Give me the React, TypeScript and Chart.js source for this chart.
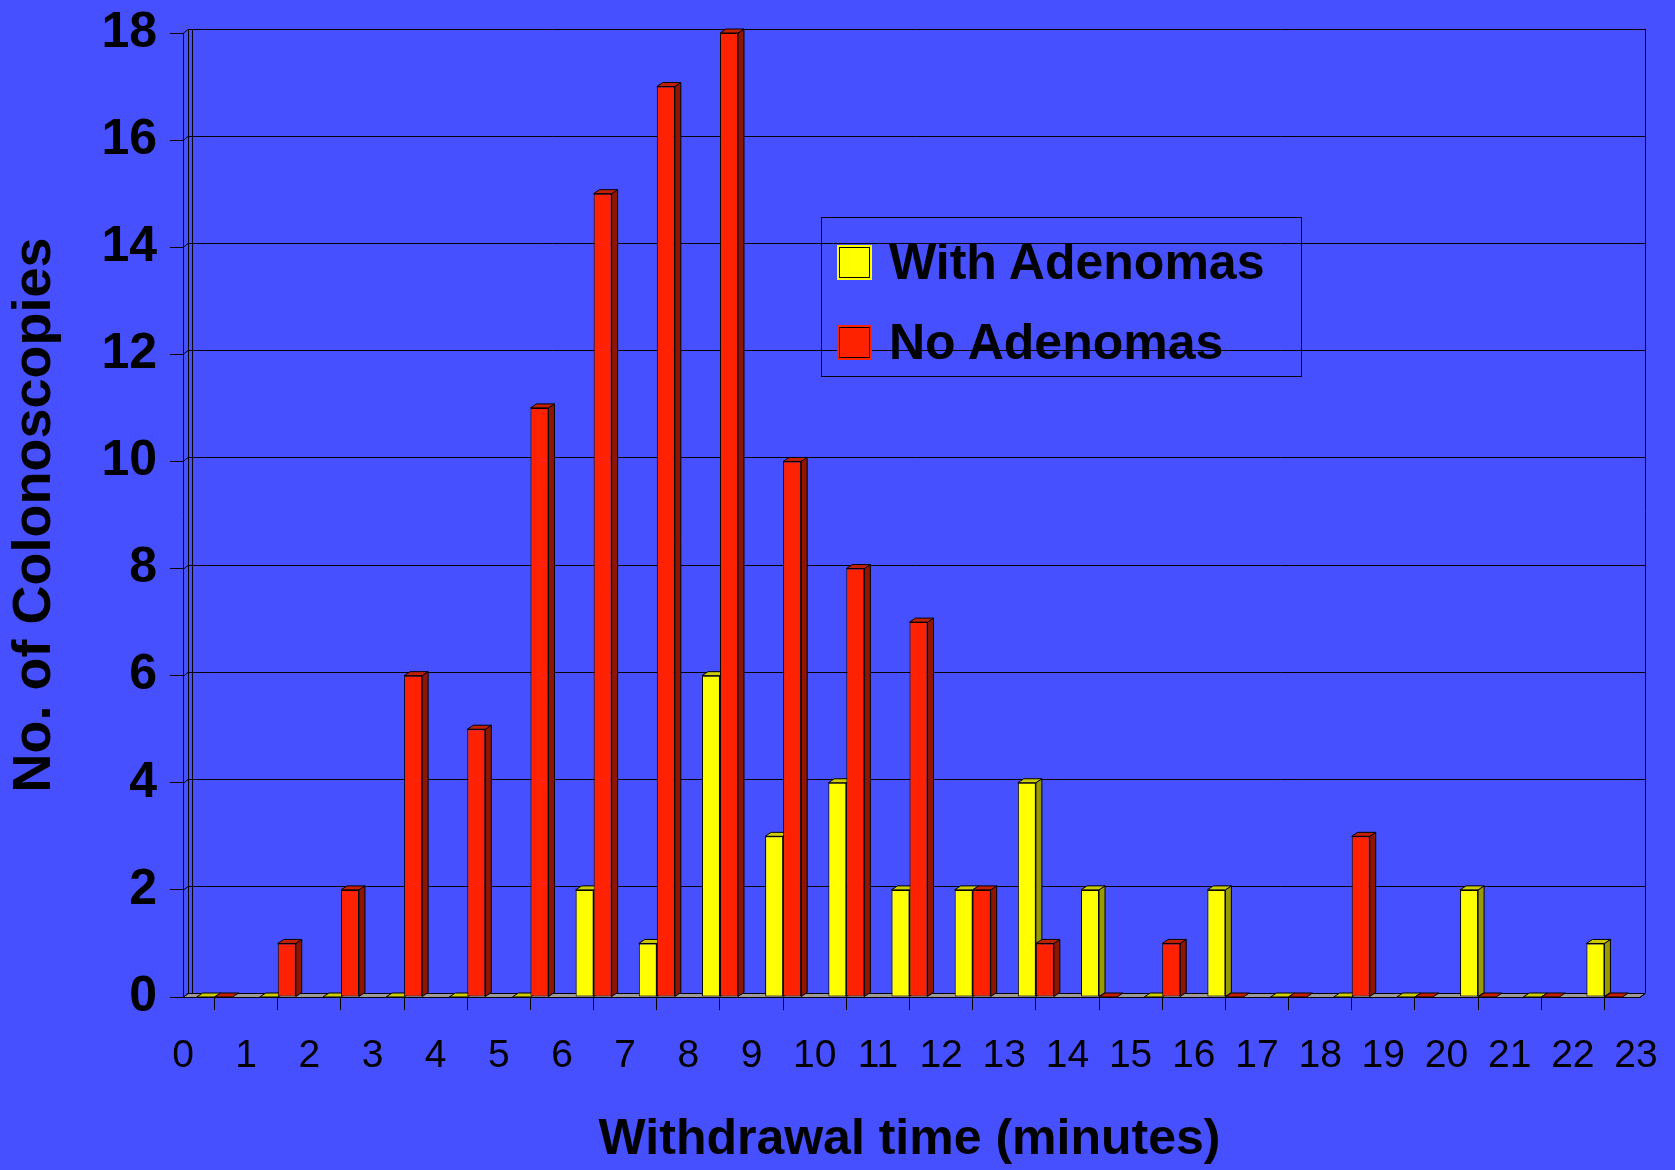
import React, { useEffect, useRef } from 'react';
import { Chart, registerables } from 'chart.js';

Chart.register(...registerables);

// ---- data ----
const binLabels = [
  '0-1', '1-2', '2-3', '3-4', '4-5', '5-6', '6-7', '7-8', '8-9', '9-10', '10-11', '11-12',
  '12-13', '13-14', '14-15', '15-16', '16-17', '17-18', '18-19', '19-20', '20-21', '21-22', '22-23',
];
const xTickLabels = [
  '0', '1', '2', '3', '4', '5', '6', '7', '8', '9', '10', '11',
  '12', '13', '14', '15', '16', '17', '18', '19', '20', '21', '22', '23',
];
const seriesNames = ['With Adenomas', 'No Adenomas'];
const withAdenomas = [0, 0, 0, 0, 0, 0, 2, 1, 6, 3, 4, 2, 2, 4, 2, 0, 2, 0, 0, 0, 2, 0, 1];
const noAdenomas = [0, 1, 2, 6, 5, 11, 15, 17, 18, 10, 8, 7, 2, 1, 0, 1, 0, 0, 3, 0, 0, 0, 0];
const yMin = 0;
const yMax = 18;
const yStep = 2;

// ---- styles ----
const BG = '#4650FF';
const frontColors = ['#FFFF00', '#FF2200'];
const sideColors = ['#999900', '#8E1600'];
const topColors = ['#CCCC00', '#C42000'];
const FLOOR = '#9A9A9A';
const FONT = '"Liberation Sans", Arial, Helvetica, sans-serif';
const BAR_DX = 6;
const BAR_DY = 4;
const WALL_DX = 5;
const WALL_DY = 4;
const EXTRA_RIGHT = 4;

const depthPlugin = {
  id: 'depth3d',
  beforeDatasetsDraw(chart: any) {
    const { ctx, chartArea } = chart;
    const { left, right, top, bottom } = chartArea;
    const ys = chart.scales.y;
    const backRight = right + WALL_DX + EXTRA_RIGHT;
    ctx.save();
    ctx.lineWidth = 1;
    ctx.strokeStyle = '#000';

    // floor
    ctx.fillStyle = FLOOR;
    ctx.beginPath();
    ctx.moveTo(left, bottom + 0.5);
    ctx.lineTo(right + EXTRA_RIGHT, bottom + 0.5);
    ctx.lineTo(backRight, bottom - WALL_DY + 0.5);
    ctx.lineTo(left + WALL_DX, bottom - WALL_DY + 0.5);
    ctx.closePath();
    ctx.fill();
    ctx.stroke();

    // back-wall gridlines with wall diagonal
    ys.ticks.forEach((t: any) => {
      const py = Math.round(ys.getPixelForValue(t.value)) + 0.5;
      ctx.beginPath();
      ctx.moveTo(left, py);
      ctx.lineTo(left + WALL_DX, py - WALL_DY);
      ctx.lineTo(backRight, py - WALL_DY);
      ctx.stroke();
    });
    // wall edges
    const bx = Math.round(left + WALL_DX) + 0.5;
    ctx.beginPath();
    ctx.moveTo(bx, top - WALL_DY);
    ctx.lineTo(bx, bottom - WALL_DY);
    ctx.moveTo(bx + 4, top - WALL_DY);
    ctx.lineTo(bx + 4, bottom - WALL_DY);
    ctx.moveTo(Math.round(backRight) + 0.5, top - WALL_DY);
    ctx.lineTo(Math.round(backRight) + 0.5, bottom - WALL_DY + 0.5);
    ctx.moveTo(right + EXTRA_RIGHT, bottom + 0.5);
    ctx.lineTo(backRight, bottom - WALL_DY + 0.5);
    ctx.stroke();

    // bar depth faces (side + top), drawn before the fronts
    const n = chart.data.labels.length;
    for (let i = 0; i < n; i++) {
      for (let d = 0; d < chart.data.datasets.length; d++) {
        const meta = chart.getDatasetMeta(d);
        const bar = meta.data[i];
        if (!bar) continue;
        const { x, y, base, width } = bar.getProps(['x', 'y', 'base', 'width'], true);
        const l = x - width / 2;
        const r = x + width / 2;
        if (base - y > 0.5) {
          ctx.fillStyle = sideColors[d];
          ctx.beginPath();
          ctx.moveTo(r, y);
          ctx.lineTo(r + BAR_DX, y - BAR_DY);
          ctx.lineTo(r + BAR_DX, base - BAR_DY);
          ctx.lineTo(r, base);
          ctx.closePath();
          ctx.fill();
          ctx.stroke();
        }
        ctx.fillStyle = topColors[d];
        ctx.beginPath();
        ctx.moveTo(l, y);
        ctx.lineTo(l + BAR_DX, y - BAR_DY);
        ctx.lineTo(r + BAR_DX, y - BAR_DY);
        ctx.lineTo(r, y);
        ctx.closePath();
        ctx.fill();
        ctx.stroke();
      }
    }
    ctx.restore();
  },
};

export default function App() {
  const canvasRef = useRef<HTMLCanvasElement | null>(null);

  useEffect(() => {
    if (!canvasRef.current) return;
    const seriesData = [withAdenomas, noAdenomas];
    const chart = new Chart(canvasRef.current, {
      type: 'bar',
      data: {
        labels: binLabels,
        datasets: seriesNames.map((name, k) => ({
          label: name,
          data: seriesData[k],
          backgroundColor: frontColors[k],
          borderColor: '#000',
          borderWidth: 1,
          borderSkipped: false,
          categoryPercentage: 0.57,
          barPercentage: 1,
          xAxisID: 'x',
          yAxisID: 'y',
        })),
      },
      options: {
        responsive: false,
        animation: false,
        layout: { padding: { top: 33, right: 39, bottom: 0, left: 0 } },
        plugins: {
          legend: { display: false },
          tooltip: { enabled: false },
        },
        scales: {
          x: {
            type: 'category',
            display: false,
            offset: true,
          },
          xt: {
            type: 'linear',
            position: 'bottom',
            min: 0,
            max: xTickLabels.length - 1,
            offset: false,
            ticks: {
              stepSize: 1,
              autoSkip: false,
              maxRotation: 0,
              color: '#000',
              padding: 23,
              font: { family: FONT, size: 39 },
              callback: (v: any) => xTickLabels[Number(v)] ?? '',
            },
            grid: { drawOnChartArea: false, drawTicks: true, tickLength: 13, color: '#000' },
            border: { display: true, color: '#000' },
            title: {
              display: true,
              text: 'Withdrawal time (minutes)',
              color: '#000',
              font: { family: FONT, size: 50, weight: 'bold' },
              padding: { top: 0, bottom: 0 },
            },
            afterFit: (s: any) => {
              s.height = 173;
              s.paddingLeft = 0;
              s.paddingRight = 0;
            },
          } as any,
          y: {
            min: yMin,
            max: yMax,
            ticks: {
              stepSize: yStep,
              color: '#000',
              padding: 13,
              font: { family: FONT, size: 50, weight: 'bold' },
            },
            grid: { drawOnChartArea: false, drawTicks: true, tickLength: 13, color: '#000' },
            border: { display: true, color: '#000' },
            title: {
              display: true,
              text: 'No. of Colonoscopies',
              color: '#000',
              font: { family: FONT, size: 54, weight: 'bold' },
              padding: { top: 3, bottom: 0 },
            },
            afterFit: (s: any) => {
              s.width = 183;
              s.paddingTop = 0;
              s.paddingBottom = 0;
            },
          } as any,
        },
      },
      plugins: [depthPlugin],
    });
    return () => chart.destroy();
  }, []);

  return (
    <div
      style={{
        position: 'fixed',
        left: 0,
        top: 0,
        width: 1675,
        height: 1170,
        background: BG,
        overflow: 'hidden',
      }}
    >
      <canvas ref={canvasRef} width={1675} height={1170} style={{ display: 'block' }} />
      <div
        style={{
          position: 'absolute',
          left: 821,
          top: 217,
          width: 481,
          height: 160,
          border: '1px solid #000',
          boxSizing: 'border-box',
        }}
      >
        {seriesNames.map((name, k) => (
          <div
            key={name}
            style={{
              position: 'absolute',
              left: 15,
              top: 44 + k * 80 - 30,
              height: 60,
              display: 'flex',
              alignItems: 'center',
              whiteSpace: 'nowrap',
            }}
          >
            <div
              style={{
                width: 31,
                height: 31,
                background: frontColors[k],
                border: '1px solid #000',
                outline: `2px solid ${frontColors[k]}`,
                boxSizing: 'border-box',
                marginLeft: 2,
              }}
            />
            <span
              style={{
                marginLeft: 19,
                fontFamily: FONT,
                fontWeight: 'bold',
                fontSize: 50,
                color: '#000',
                lineHeight: '60px',
              }}
            >
              {name}
            </span>
          </div>
        ))}
      </div>
    </div>
  );
}
